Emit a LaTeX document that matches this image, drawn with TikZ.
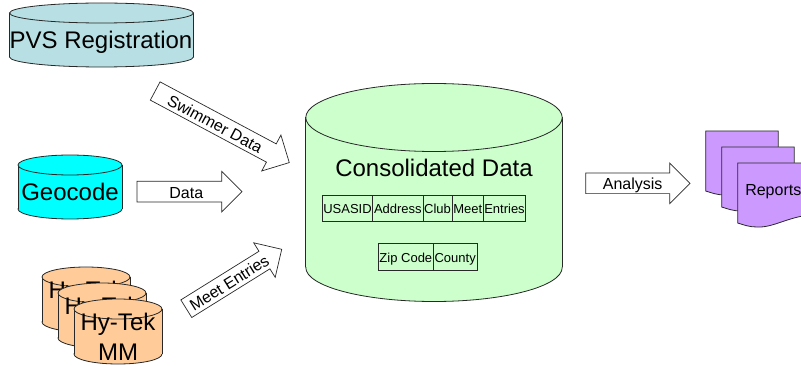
\documentclass[tikz,border=0pt]{standalone}
\usepackage{fontspec}
\setmainfont{Liberation Sans}
\usetikzlibrary{shapes.arrows}
\definecolor{powder}{RGB}{184, 224, 228}
\definecolor{aqua}{RGB}{0, 255, 255}
\definecolor{peach}{RGB}{255, 204, 153}
\definecolor{mint}{RGB}{204, 255, 204}
\definecolor{lilac}{RGB}{204, 153, 255}
\definecolor{edge}{RGB}{40, 40, 40}
\tikzset{
  cantext/.style={font=\fontsize{24}{30}\selectfont, align=center, inner sep=0pt},
  cell/.style={draw=edge, line width=0.7pt, font=\fontsize{13}{15}\selectfont, inner sep=0pt, minimum height=26.5pt, anchor=west,
    text height=12.5pt, text depth=1.5pt},
  flowarrow/.style={shape=single arrow, draw=edge, fill=white, line width=0.7pt, anchor=tail, outer sep=0pt,
    single arrow tip angle=90, single arrow head extend=10pt, inner xsep=0pt, inner ysep=2pt,
    text height=14.5pt, text depth=1.5pt, font=\fontsize{16}{18}\selectfont},
  pagetext/.style={font=\fontsize{16}{18}\selectfont, inner sep=0pt}
}
\newcommand{\drawcan}[6]{
            \filldraw[edge, fill=#6, line width=0.8pt](#1, #2+#5) ellipse (#3 and #4);
            \fill[#6]                                 (#1-#3, #2) rectangle (#1+#3, #2+#5);
            \draw[edge, line width=0.8pt]             (#1-#3, #2) -- (#1-#3, #2+#5) (#1+#3, #2) -- (#1+#3, #2+#5);
            \filldraw[edge, fill=#6, line width=0.8pt](#1, #2) ellipse (#3 and #4);
}
\newcommand{\drawpage}[2]{
            \filldraw[edge, fill=lilac, line width=0.8pt](#1, #2) -- (#1+72.5, #2) -- (#1+72.5, #2+52)
                 .. controls (#1+50, #2+54) and (#1+35, #2+65) .. (#1+19, #2+64)
                 .. controls (#1+12, #2+64) and (#1+6, #2+62) .. (#1, #2+60) -- cycle;
}
\begin{document}
\begin{tikzpicture}[x=1pt, y=-1pt]
            \useasboundingbox (0, 0) rectangle (801, 366);
            \drawcan{101.5}{13}{92}{10}{44}{powder}
            \node[cantext] (pvs) at (101, 42) {PVS Registration};
            \drawcan{70}{165}{52}{10}{44}{aqua}
            \node[cantext] (geocode) at (70, 191.5) {Geocode};
            \drawcan{86}{277}{44}{10}{45}{peach}
            \node[cantext] (hytekone) at (86, 304.5) {Hy-Tek\\MM};
            \drawcan{102}{293}{44}{10}{45}{peach}
            \node[cantext] (hytektwo) at (102, 320.5) {Hy-Tek\\MM};
            \drawcan{118}{309}{44}{10}{45}{peach}
            \node[cantext] (hytekthree) at (118, 336.5) {Hy-Tek\\MM};
            \drawcan{434}{117.5}{128.2}{34}{150}{mint}
            \node[cantext] (consolidated) at (434, 167.5) {Consolidated Data};
            \node[cell, minimum width=50.3pt] (usasid)  at (322, 208.5)   {USASID};
            \node[cell, minimum width=50.4pt] (address) at (372.3, 208.5) {Address};
            \node[cell, minimum width=29pt]   (club)    at (422.7, 208.5) {Club};
            \node[cell, minimum width=31.3pt] (meet)    at (451.7, 208.5) {Meet};
            \node[cell, minimum width=42.3pt] (entries) at (483, 208.5)   {Entries};
            \node[cell, minimum width=55pt]   (zipcode) at (378, 256.7)   {Zip Code};
            \node[cell, minimum width=43.7pt] (county)  at (433, 256.7)   {County};
            \node[flowarrow, rotate=-28.1, minimum height=152pt] (swimmer) at (155.2, 91)    {Swimmer Data\hspace*{5pt}};
            \node[flowarrow, minimum height=105pt]               (data)    at (137, 191.7)   {\hspace*{4pt}Data};
            \node[flowarrow, rotate=31.9, minimum height=112.4pt] (entriesflow) at (186.3, 308.7) {Meet Entries\hspace*{2pt}};
            \node[flowarrow, minimum height=104.3pt]             (analysis) at (585.7, 183.3) {Analysis};
            \drawpage{705.7}{131}
            \drawpage{721.7}{147}
            \drawpage{737.7}{163}
            \node[pagetext] (reports) at (773.3, 192) {Reports};
        \end{tikzpicture}
\end{document}
